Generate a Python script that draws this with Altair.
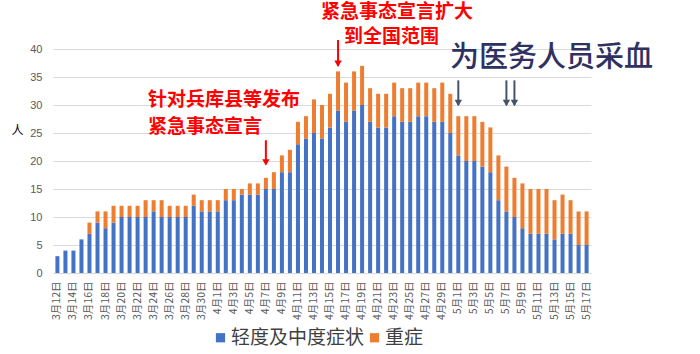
import altair as alt
import pandas as pd

# ---- data ----
dates = ([f"3月{d}日" for d in range(12, 32)]
         + [f"4月{d}日" for d in range(1, 31)]
         + [f"5月{d}日" for d in range(1, 18)])

mild = [3, 4, 4, 6, 7, 9, 8, 9, 10, 10, 10, 10, 11, 10, 10, 10, 10, 12, 11, 11,
        11, 13, 13, 14, 14, 14, 15, 15, 18, 18, 23, 24, 25, 24, 26, 29, 27, 29, 30, 27,
        26, 26, 28, 27, 27, 28, 28, 27, 27, 25,
        21, 20, 20, 19, 18, 13, 11, 10, 8, 7, 7, 7, 6, 7, 7, 5, 5]
severe = [0, 0, 0, 0, 2, 2, 3, 3, 2, 2, 2, 3, 2, 3, 2, 2, 2, 2, 2, 2,
          2, 2, 2, 1, 2, 2, 2, 3, 3, 4, 4, 4, 6, 6, 6, 7, 7, 7, 7, 6,
          6, 6, 6, 6, 6, 6, 6, 6, 7, 7,
          7, 8, 8, 8, 8, 8, 8, 7, 8, 8, 8, 8, 7, 7, 6, 6, 6]

series_names = ["轻度及中度症状", "重症"]
series_colors = ["#4472C4", "#ED7D31"]

y_ticks = [0, 5, 10, 15, 20, 25, 30, 35, 40]

# annotation anchors (date + value range of the arrow)
red_arrow_dates = ["4月7日", "4月16日"]
red_arrow_top = [23.7, 41.6]
red_arrow_tip = [19.4, 37.0]
dark_arrow_dates = ["5月1日", "5月7日", "5月8日"]
dark_arrow_top = [34.4, 34.4, 34.4]
dark_arrow_tip = [30.0, 30.0, 30.0]

# ---- tables ----
rows = []
for i, d in enumerate(dates):
    rows.append({"date": d, "series": series_names[0], "count": mild[i], "ord": 0})
    rows.append({"date": d, "series": series_names[1], "count": severe[i], "ord": 1})
df = pd.DataFrame(rows)

red_df = pd.DataFrame({"date": red_arrow_dates, "count": red_arrow_top, "tip": red_arrow_tip})
dark_df = pd.DataFrame({"date": dark_arrow_dates, "count": dark_arrow_top, "tip": dark_arrow_tip})

FONT = "Noto Sans CJK SC"
LABEL_FONT = "Noto Sans CJK JP"

xscale = alt.Scale(domain=dates, paddingInner=0.5, paddingOuter=0.3)
yscale = alt.Scale(domain=[0, 40], nice=False)

xaxis = alt.Axis(values=dates[::2], labelAngle=-90, title=None, ticks=False,
                 domainColor="#D9D9D9", labelFont=LABEL_FONT, labelFontSize=10.5,
                 labelColor="#595959", labelPadding=8, grid=False)
yaxis = alt.Axis(values=y_ticks, title="人", titleAngle=0, titleX=-36, titleY=88,
                 titleFont=FONT, titleFontSize=12, titleFontWeight="normal",
                 titleColor="#000000", ticks=False, domain=False,
                 labelFont="Liberation Sans", labelFontSize=11, labelColor="#595959",
                 labelPadding=11, grid=True, gridColor="#D9D9D9")

bars = alt.Chart(df).mark_bar().encode(
    x=alt.X("date:N", scale=xscale, axis=xaxis),
    y=alt.Y("count:Q", stack="zero", scale=yscale, axis=yaxis),
    color=alt.Color("series:N", scale=alt.Scale(domain=series_names, range=series_colors),
                    legend=alt.Legend(orient="none", legendX=158, legendY=279,
                                      direction="horizontal", title=None, symbolType="square",
                                      symbolSize=85, symbolStrokeWidth=0,
                                      labelFont=FONT, labelFontSize=19, labelColor="#404040",
                                      labelOffset=1, columnPadding=0)),
    order=alt.Order("ord:Q"),
)


def arrows(data, color):
    rule = alt.Chart(data).mark_rule(color=color, strokeWidth=2).encode(
        x=alt.X("date:N", scale=xscale, axis=xaxis),
        y=alt.Y("count:Q", scale=yscale, axis=yaxis),
        y2="tip:Q",
    )
    head = alt.Chart(data).mark_point(shape="triangle-down", filled=True, color=color,
                                      size=55, opacity=1, yOffset=-2).encode(
        x=alt.X("date:N", scale=xscale, axis=xaxis),
        y=alt.Y("tip:Q", scale=yscale, axis=yaxis),
    )
    return rule + head


def label(txt, x, y, size, color, weight):
    return alt.Chart(pd.DataFrame({"t": [txt]})).mark_text(
        align="left", baseline="middle", font=FONT, fontSize=size,
        color=color, fontWeight=weight,
    ).encode(x=alt.value(x), y=alt.value(y), text="t:N")


texts = (
    label("针对兵库县等发布", 95, 51, 19, "#FF0000", "bold")
    + label("紧急事态宣言", 95, 78, 19, "#FF0000", "bold")
    + label("紧急事态宣言扩大", 268, -37, 19, "#FF0000", "bold")
    + label("到全国范围", 291, -12, 19, "#FF0000", "bold")
    + label("为医务人员采血", 397, 9, 29, "#2F3163", 500)
)

chart = alt.layer(
    bars, arrows(red_df, "#FF0000"), arrows(dark_df, "#44546A"), texts
).properties(
    width=538, height=224,
    autosize=alt.AutoSizeParams(type="none"),
    padding={"left": 53, "top": 49, "right": 109, "bottom": 81},
    background="white",
).configure_view(stroke=None)

chart.save("out.html", embed_options={"renderer": "svg", "actions": False})
